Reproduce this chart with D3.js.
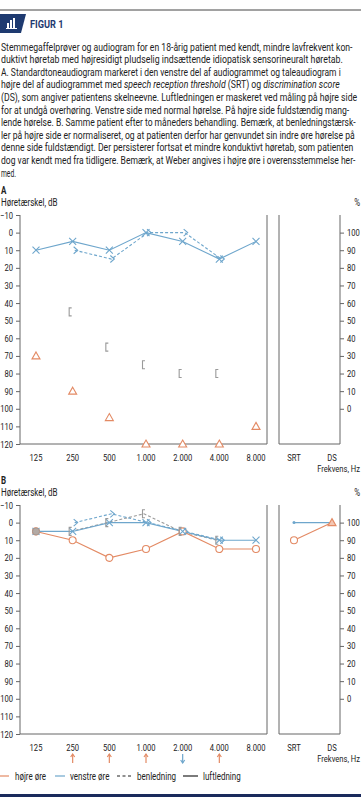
<!DOCTYPE html>
<html>
<head>
<meta charset="utf-8">
<script src="https://cdn.jsdelivr.net/npm/d3@7"></script>
<style>
  body { margin: 0; background: #fff; }
  svg { display: block; font-family: Roboto, "Liberation Sans", sans-serif; }
</style>
</head>
<body>
<div id="chart"></div>
<script>
// audiogram data
var freqs = ["125", "250", "500", "1.000", "2.000", "4.000", "8.000"];
var speechCats = ["SRT", "DS"];
var dbTicks = [-10, 0, 10, 20, 30, 40, 50, 60, 70, 80, 90, 100, 110, 120];
var pctTicks = [0, 10, 20, 30, 40, 50, 60, 70, 80, 90, 100];

// A: before treatment
var aLeftAir = [10, 5, 10, 0, 5, 15, 5];
var aLeftBone = [null, 10, 15, 0, 0, 15, null];
var aRightAirMasked = [70, 90, 105, 120, 120, 120, 110];
var aRightBoneMasked = [null, 45, 65, 75, 80, 80, null];

// B: two months later
var bRightAir = [5, 10, 20, 15, 5, 15, 15];
var bLeftAir = [5, 5, 0, 0, 5, 10, 10];
var bLeftBone = [null, 0, -5, 0, 5, 10, null];
var bRightBone = [null, 5, 0, -5, 5, 10, null];
var bLeftSpeech = [0, 100];   // SRT dB, DS %
var bRightSpeech = [10, 100];
var weber = [null, "up", "up", "up", "down", "up", null];

var paragraph = [
    ["Stemmegaffelprøver og audiogram for en 18-årig patient med kendt, mindre lavfrekvent kon-"],
    ["duktivt høretab med højresidigt pludselig indsættende idiopatisk sensorineuralt høretab."],
    ["A. Standardtoneaudiogram markeret i den venstre del af audiogrammet og taleaudiogram i"],
    ["højre del af audiogrammet med ", "*speech reception threshold", " (SRT) og ", "*discrimination score"],
    ["(DS), som angiver patientens skelneevne. Luftledningen er maskeret ved måling på højre side"],
    ["for at undgå overhøring. Venstre side med normal hørelse. På højre side fuldstændig mang-"],
    ["lende hørelse. B. Samme patient efter to måneders behandling. Bemærk, at benledningstærsk-"],
    ["ler på højre side er normaliseret, og at patienten derfor har genvundet sin indre øre hørelse på"],
    ["denne side fuldstændigt. Der persisterer fortsat et mindre konduktivt høretab, som patienten"],
    ["dog var kendt med fra tidligere. Bemærk, at Weber angives i højre øre i overensstemmelse her-"],
    ["med."]
];
var lineWidths = [353, 343, 341, 340, 357, 350, 356, 355, 354, 356, 16];

var orange = "#e38a64";
var blue = "#6ea6cc";
var grey = "#9a9a9a";
var ink = "#222";
var squeezeF = 0.8; // stand-in for the condensed face

var W = 361, H = 800;
var svg = d3.select("#chart").append("svg")
    .attr("width", W)
    .attr("height", H);

// horizontal squeeze around the text anchor point
function squeeze(sel, f) {
    sel.each(function () {
        var t = d3.select(this);
        var x = +t.attr("x") || 0, y = +t.attr("y") || 0;
        var k = typeof f === "function" ? f(this) : f;
        t.attr("x", 0).attr("y", 0)
            .attr("transform", "translate(" + x + "," + y + ") scale(" + k + ",1)");
    });
}

// header
svg.append("line")
    .attr("x1", 0).attr("x2", W).attr("y1", 10).attr("y2", 10)
    .attr("stroke", "#444").attr("stroke-width", 1);
svg.append("path")
    .attr("d", "M0,14 L26,14 L21,33 L0,33 Z")
    .attr("fill", "#1e3a70");
var icon = svg.append("g").attr("fill", "#fff");
[[7, 23, 2, 5], [10, 20, 2, 8], [13, 18, 2, 10]].forEach(function (b) {
    icon.append("rect").attr("x", b[0]).attr("y", b[1]).attr("width", b[2]).attr("height", b[3]);
});
icon.append("rect").attr("x", 6).attr("y", 28).attr("width", 11).attr("height", 1);
svg.append("text")
    .attr("class", "sq")
    .attr("x", 30).attr("y", 28)
    .attr("font-size", 11.5).attr("font-weight", "bold")
    .attr("fill", "#1e3a70")
    .text("FIGUR 1");

// caption paragraph
paragraph.forEach(function (parts, i) {
    var t = svg.append("text")
        .attr("class", "para")
        .attr("x", 1)
        .attr("y", 50.5 + i * 12.6)
        .attr("font-size", 10)
        .attr("fill", ink);
    parts.forEach(function (p) {
        var italic = p[0] === "*";
        t.append("tspan")
            .attr("font-style", italic ? "italic" : "normal")
            .text(italic ? p.slice(1) : p);
    });
});
squeeze(svg.selectAll("text.para"), function (el) {
    var i = svg.selectAll("text.para").nodes().indexOf(el);
    return (lineWidths[i] - 1) / el.getComputedTextLength();
});

// marker shapes
function crossPath(x, y) {
    var s = 3.5;
    return "M" + (x - s) + "," + (y - s) + "L" + (x + s) + "," + (y + s) +
        "M" + (x - s) + "," + (y + s) + "L" + (x + s) + "," + (y - s);
}
function chevronPath(x, y) { // ">" left bone
    return "M" + (x + 1) + "," + (y - 3.5) + "L" + (x + 5) + "," + y + "L" + (x + 1) + "," + (y + 3.5);
}
function bracketPath(x, y) { // "[" right masked bone
    return "M" + (x - 1) + "," + (y - 4) + "L" + (x - 3.5) + "," + (y - 4) +
        "L" + (x - 3.5) + "," + (y + 4) + "L" + (x - 1) + "," + (y + 4);
}
function trianglePath(x, y) {
    return "M" + x + "," + (y - 4) + "L" + (x + 4) + "," + (y + 3) + "L" + (x - 4) + "," + (y + 3) + "Z";
}
function circlePath(x, y) {
    return "M" + (x + 3.5) + "," + y + "A3.5,3.5 0 1,1 " + (x - 3.5) + "," + y +
        "A3.5,3.5 0 1,1 " + (x + 3.5) + "," + y;
}

function drawPanel(top, label) {
    var bottom = top + 229;
    var g = svg.append("g");

    var y = d3.scaleLinear().domain([-10, 120]).range([top, bottom]);
    var x = d3.scalePoint().domain(freqs).range([36, 256]);
    var xs = d3.scalePoint().domain(speechCats).range([294, 332]);
    var yPct = d3.scaleLinear().domain([0, 100]).range([y(100), y(0)]);

    g.append("text").attr("class", "sq").attr("x", 1).attr("y", top - 21.5)
        .attr("font-size", 10).attr("font-weight", "bold").attr("fill", ink).text(label);
    g.append("text").attr("class", "sq").attr("x", 1).attr("y", top - 9)
        .attr("font-size", 10).attr("fill", ink).text("Høretærskel, dB");
    g.append("text").attr("class", "sq").attr("x", 360).attr("y", top - 9)
        .attr("text-anchor", "end")
        .attr("font-size", 10).attr("fill", ink).text("%");

    // left dB axis
    var la = g.append("g")
        .attr("transform", "translate(20,0)")
        .call(d3.axisLeft(y).tickValues(dbTicks).tickSize(4).tickPadding(3));
    // right % axis
    var ra = g.append("g")
        .attr("transform", "translate(340,0)")
        .call(d3.axisRight(yPct).tickValues(pctTicks).tickSize(4).tickPadding(3));
    [la, ra].forEach(function (a) {
        a.select(".domain").remove();
        a.attr("font-family", null);
        a.selectAll("text").attr("font-size", 9.5).attr("fill", ink).attr("class", "sq");
        a.selectAll("line").attr("stroke", "#666");
    });

    // frame lines
    var frame = [
        [20, top, 20, bottom], [20, bottom, 267, bottom], [267, top, 267, bottom],
        [279, top, 279, bottom], [279, bottom, 340, bottom], [340, top, 340, bottom]
    ];
    g.selectAll("line.frame").data(frame).enter().append("line")
        .attr("class", "frame")
        .attr("x1", d => d[0]).attr("y1", d => d[1])
        .attr("x2", d => d[2]).attr("y2", d => d[3])
        .attr("stroke", "#666").attr("stroke-width", 1);

    // x labels
    g.selectAll("text.freq").data(freqs).enter().append("text")
        .attr("class", "freq sq")
        .attr("x", d => x(d)).attr("y", bottom + 16.5)
        .attr("text-anchor", "middle")
        .attr("font-size", 9.5).attr("fill", ink)
        .text(d => d);
    g.selectAll("text.speech").data(speechCats).enter().append("text")
        .attr("class", "speech sq")
        .attr("x", d => xs(d)).attr("y", bottom + 16.5)
        .attr("text-anchor", "middle")
        .attr("font-size", 9.5).attr("fill", ink)
        .text(d => d);
    g.append("text").attr("class", "sq").attr("x", 360).attr("y", bottom + 27.5)
        .attr("text-anchor", "end")
        .attr("font-size", 9.5).attr("fill", ink).text("Frekvens, Hz");

    return { g: g, x: x, xs: xs, y: y, yPct: yPct, bottom: bottom };
}

function seriesLine(p, values, color, dashed, dx) {
    var pts = values.map((v, i) => [freqs[i], v]).filter(d => d[1] !== null);
    var line = d3.line().x(d => p.x(d[0]) + (dx || 0)).y(d => p.y(d[1]));
    p.g.append("path")
        .datum(pts)
        .attr("d", line)
        .attr("fill", "none")
        .attr("stroke", color)
        .attr("stroke-width", 1.1)
        .attr("stroke-dasharray", dashed ? "3,2" : null);
}
function seriesMarks(p, values, shape, color, fill) {
    var pts = values.map((v, i) => [freqs[i], v]).filter(d => d[1] !== null);
    p.g.selectAll(null).data(pts).enter().append("path")
        .attr("d", d => shape(p.x(d[0]), p.y(d[1])))
        .attr("fill", fill || "none")
        .attr("stroke", color)
        .attr("stroke-width", 1.1);
}

// ---- A ----
var pA = drawPanel(215, "A");
seriesLine(pA, aLeftBone, blue, true, 2);
seriesLine(pA, aLeftAir, blue, false);
seriesMarks(pA, aLeftAir, crossPath, blue);
seriesMarks(pA, aLeftBone, chevronPath, blue);
seriesMarks(pA, aRightAirMasked, trianglePath, orange, "#fff");
seriesMarks(pA, aRightBoneMasked, bracketPath, grey);

// ---- B ----
var pB = drawPanel(505, "B");
seriesLine(pB, bRightBone, grey, true, -2);
seriesLine(pB, bLeftBone, blue, true, 2);
seriesLine(pB, bRightAir, orange, false);
seriesLine(pB, bLeftAir, blue, false);
seriesMarks(pB, bRightAir, circlePath, orange, "#fff");
seriesMarks(pB, bLeftAir, crossPath, blue);
seriesMarks(pB, bLeftBone, chevronPath, blue);
seriesMarks(pB, bRightBone, bracketPath, grey);
// both ears equal at 125 Hz: grey filled circle
pB.g.append("circle")
    .attr("cx", pB.x(freqs[0])).attr("cy", pB.y(bRightAir[0])).attr("r", 3.5)
    .attr("fill", "#b3aaa5").attr("stroke", "#a89890").attr("stroke-width", 1);

// speech audiometry (SRT on dB scale, DS on % scale)
var spX = speechCats.map(c => pB.xs(c));
pB.g.append("line")
    .attr("x1", spX[0]).attr("y1", pB.y(bLeftSpeech[0]))
    .attr("x2", spX[1]).attr("y2", pB.yPct(bLeftSpeech[1]))
    .attr("stroke", blue).attr("stroke-width", 1.1);
pB.g.append("line")
    .attr("x1", spX[0]).attr("y1", pB.y(bRightSpeech[0]))
    .attr("x2", spX[1]).attr("y2", pB.yPct(bRightSpeech[1]))
    .attr("stroke", orange).attr("stroke-width", 1.1);
pB.g.append("circle")
    .attr("cx", spX[0]).attr("cy", pB.y(bLeftSpeech[0])).attr("r", 1.5)
    .attr("fill", blue);
pB.g.append("path")
    .attr("d", circlePath(spX[0], pB.y(bRightSpeech[0])))
    .attr("fill", "#fff").attr("stroke", orange).attr("stroke-width", 1.1);
pB.g.append("path")
    .attr("d", trianglePath(spX[1], pB.yPct(bRightSpeech[1])))
    .attr("fill", "#f3c6b2").attr("stroke", orange).attr("stroke-width", 1.1);

// Weber arrows under the frequencies
weber.forEach(function (w, i) {
    if (!w) return;
    var cx = pB.x(freqs[i]);
    var y0 = pB.bottom + 20, y1 = pB.bottom + 29;
    var col = w === "up" ? orange : blue;
    var tip = w === "up" ? y0 : y1;
    var dir = w === "up" ? 1 : -1;
    pB.g.append("line")
        .attr("x1", cx).attr("x2", cx).attr("y1", y0).attr("y2", y1)
        .attr("stroke", col).attr("stroke-width", 1.2);
    pB.g.append("path")
        .attr("d", "M" + (cx - 2) + "," + (tip + 3 * dir) + "L" + cx + "," + tip + "L" + (cx + 2) + "," + (tip + 3 * dir))
        .attr("fill", "none").attr("stroke", col).attr("stroke-width", 1.2);
});

// legend
var legendItems = [
    { label: "højre øre", color: orange, dash: null, x0: 0, x1: 9, tx: 15 },
    { label: "venstre øre", color: blue, dash: null, x0: 55, x1: 65, tx: 70 },
    { label: "benledning", color: ink, dash: "3,2.5", x0: 117, x1: 133, tx: 137 },
    { label: "luftledning", color: ink, dash: null, x0: 183, x1: 198, tx: 203 }
];
var lg = svg.append("g");
lg.selectAll("line").data(legendItems).enter().append("line")
    .attr("x1", d => d.x0).attr("x2", d => d.x1)
    .attr("y1", 776).attr("y2", 776)
    .attr("stroke", d => d.color)
    .attr("stroke-width", 1.2)
    .attr("stroke-dasharray", d => d.dash);
lg.selectAll("text").data(legendItems).enter().append("text")
    .attr("class", "sq")
    .attr("x", d => d.tx).attr("y", 779.5)
    .attr("font-size", 10).attr("fill", ink)
    .text(d => d.label);

// bottom rule
svg.append("rect")
    .attr("x", 0).attr("y", 794).attr("width", W).attr("height", 3)
    .attr("fill", "#1a2a5c");

// condense all the short labels
squeeze(svg.selectAll("text.sq"), squeezeF);
</script>
</body>
</html>
